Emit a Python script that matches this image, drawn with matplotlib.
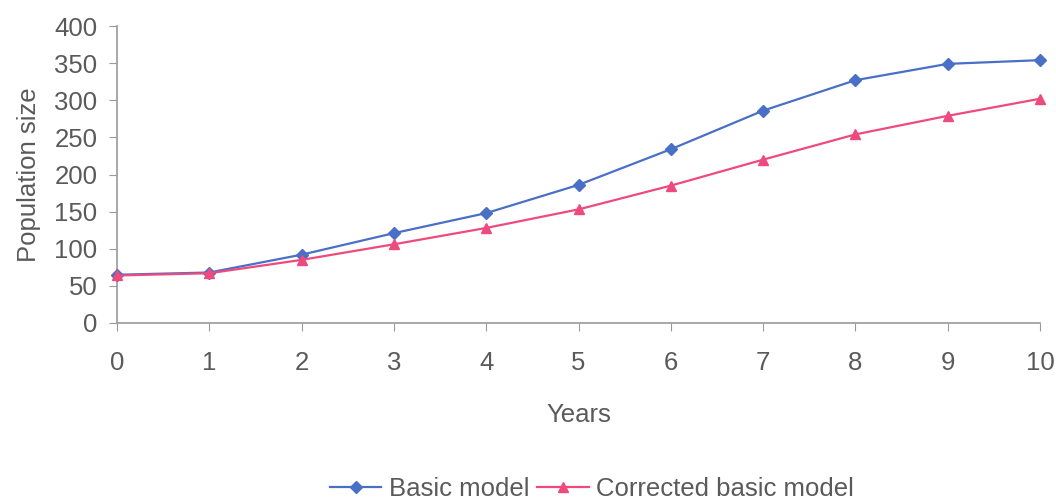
import matplotlib.pyplot as plt

plt.rcParams['font.family'] = ['Liberation Sans', 'DejaVu Sans']

years = [0, 1, 2, 3, 4, 5, 6, 7, 8, 9, 10]
basic = [65, 68, 92, 121, 148, 186, 234, 286, 327, 349, 354]
corrected = [64, 67, 85, 106, 128, 153, 185, 220, 254, 279, 302]

text_color = '#5a5a5a'
axis_color = '#9a9a9a'
fs = 18.5

fig = plt.figure(figsize=(10.56, 5.01), dpi=100)
ax = fig.add_axes([117 / 1056, 1 - 323 / 501, 923 / 1056, 297 / 501])

ax.plot(years, basic, marker='D', markersize=6, color='#4a6fc7', linewidth=1.6,
        label='Basic model', clip_on=False, zorder=3)
ax.plot(years, corrected, marker='^', markersize=7, color='#ee4a7e', linewidth=1.6,
        label='Corrected basic model', clip_on=False, zorder=3)

ax.set_xlim(0, 10)
ax.set_ylim(0, 400)
ax.set_xticks(years)
ax.set_yticks(range(0, 401, 50))

for side in ('top', 'right'):
    ax.spines[side].set_visible(False)
for side in ('left', 'bottom'):
    ax.spines[side].set_color(axis_color)
    ax.spines[side].set_linewidth(1.2)

ax.tick_params(axis='both', colors=axis_color, labelcolor=text_color, labelsize=fs, length=6)
ax.tick_params(axis='x', pad=14)
ax.tick_params(axis='y', pad=8)

ax.set_xlabel('Years', fontsize=fs, color=text_color, labelpad=20)
ax.set_ylabel('Population size', fontsize=fs, color=text_color, labelpad=10)

fig.legend(loc='center', bbox_to_anchor=(592 / 1056, 1 - 489 / 501), ncol=2,
           frameon=False, fontsize=fs, labelcolor=text_color,
           handlelength=2.0, handletextpad=0.3, columnspacing=0.3)

plt.savefig('out.png', dpi=100)
